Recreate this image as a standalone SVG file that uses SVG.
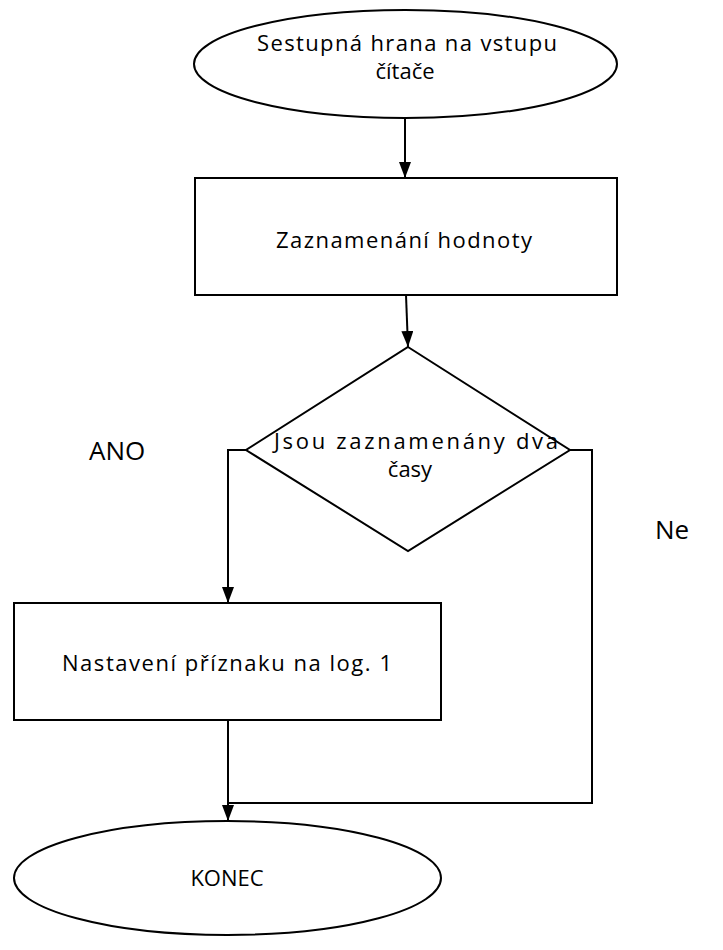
<svg xmlns="http://www.w3.org/2000/svg" width="723" height="950" viewBox="0 0 723 950">
<style>
.s{fill:#fff;stroke:#000;stroke-width:2}
.c{fill:none;stroke:#000;stroke-width:2}
.t{font-family:"Open Sans","Liberation Sans",sans-serif;font-size:22px;fill:#000}
.l{font-family:"Open Sans","Liberation Sans",sans-serif;font-size:26px;fill:#000}
</style>
<defs>
<marker id="a" markerWidth="16" markerHeight="12" refX="16" refY="6" orient="auto" markerUnits="userSpaceOnUse" viewBox="0 0 16 12">
<path d="M0,0 L16,6 L0,12 Z" fill="#000"/>
</marker>
</defs>
<rect width="723" height="950" fill="#fff"/>
<g id="connectors">
<line class="c" x1="405" y1="118" x2="405" y2="178" marker-end="url(#a)"/>
<line class="c" x1="406" y1="295" x2="408" y2="347" marker-end="url(#a)"/>
<polyline class="c" points="246,450 228,450 228,603" marker-end="url(#a)"/>
<line class="c" x1="228" y1="720" x2="228" y2="821" marker-end="url(#a)"/>
<polyline class="c" points="570,450 592,450 592,803 228,803"/>
</g>
<g id="start">
<ellipse class="s" cx="405.5" cy="64" rx="211.5" ry="54"/>
<text class="t" x="407" y="51" text-anchor="middle" textLength="300" lengthAdjust="spacing">Sestupná hrana na vstupu</text>
<text class="t" x="405" y="79" text-anchor="middle">čítače</text>
</g>
<g id="record">
<rect class="s" x="195" y="178" width="422" height="117"/>
<text class="t" x="404" y="248" text-anchor="middle" textLength="256" lengthAdjust="spacing">Zaznamenání hodnoty</text>
</g>
<g id="decision">
<polygon class="s" points="408,347 570,450 408,551 246,450"/>
<text class="t" x="416" y="449" text-anchor="middle" textLength="284" lengthAdjust="spacing">Jsou zaznamenány dva</text>
<text class="t" x="410" y="477" text-anchor="middle">časy</text>
</g>
<g id="setflag">
<rect class="s" x="14" y="603" width="427" height="117"/>
<text class="t" x="227" y="671" text-anchor="middle" textLength="330" lengthAdjust="spacing">Nastavení příznaku na log. 1</text>
</g>
<g id="end">
<ellipse class="s" cx="227.5" cy="878" rx="213.5" ry="57"/>
<text class="t" x="227" y="886" text-anchor="middle">KONEC</text>
</g>
<g id="labels">
<text class="l" x="89" y="460">ANO</text>
<text class="l" x="655" y="539">Ne</text>
</g>
</svg>
